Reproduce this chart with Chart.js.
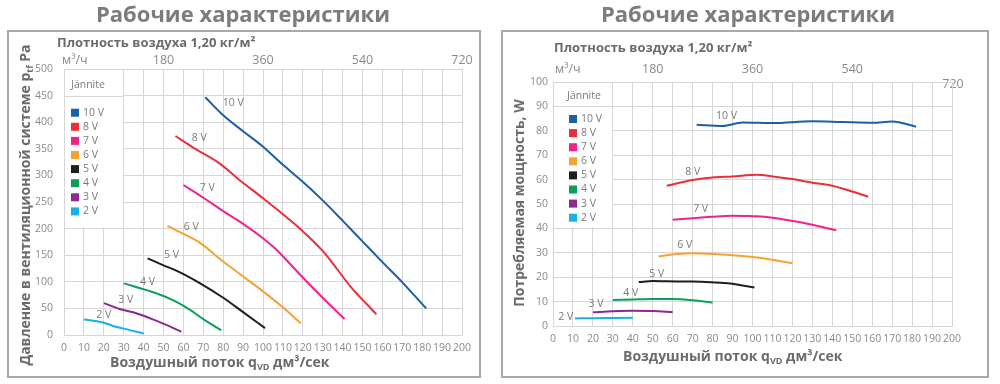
<!DOCTYPE html>
<html>
<head>
<meta charset="utf-8">
<script src="https://cdn.jsdelivr.net/npm/chart.js@4.4.1/dist/chart.umd.min.js"></script>
<style>
    html, body { margin: 0; padding: 0; background: #fff; }
    #wrap { position: relative; width: 1000px; height: 384px; }
    canvas { position: absolute; top: 0; }
    #left { left: 0; }
    #right { left: 500px; }
</style>
</head>
<body>
<div id="wrap">
    <canvas id="left" width="500" height="384"></canvas>
    <canvas id="right" width="500" height="384"></canvas>
</div>
<script>
// ---- data ----
const voltLabels = ["10 V", "8 V", "7 V", "6 V", "5 V", "4 V", "3 V", "2 V"];
const lineColors = ["#1b5fa6", "#ea2f3b", "#f0238a", "#f7a035", "#1e1e1e", "#0c9f5c", "#8c2a8f", "#17b1e6"];

// pressure chart (dm3/s -> Pa)
const pFlow10 = [71, 80, 90, 100, 110, 120, 130, 140, 150, 160, 170, 182];
const pPres10 = [447, 413, 383, 354, 320, 288, 253, 215, 176, 137, 99, 50];
const pFlow8 = [56, 66, 78, 88, 100, 110, 120, 130, 137, 144, 157];
const pPres8 = [374, 350, 323, 292, 257, 227, 195, 158, 125, 91, 39];
const pFlow7 = [60, 70, 80, 90, 100, 106, 110, 120, 130, 141];
const pPres7 = [282, 258, 233, 209, 182, 163, 148, 108, 70, 30];
const pFlow6 = [52, 60, 68, 80, 90, 100, 110, 119];
const pPres6 = [205, 190, 174, 138, 110, 82, 52, 22];
const pFlow5 = [42, 50, 57, 68, 80, 90, 101];
const pPres5 = [144, 131, 120, 98, 70, 43, 13];
const pFlow4 = [30, 46, 55, 63, 70, 79];
const pPres4 = [97, 79, 65, 48, 30, 9];
const pFlow3 = [20, 28, 37, 45, 52, 59];
const pPres3 = [60, 49, 40, 29, 18, 6];
const pFlow2 = [10, 19, 24, 30, 40];
const pPres2 = [29, 24, 18, 12, 3];

// power chart (dm3/s -> W)
const wFlow10 = [72, 85, 95, 110, 130, 145, 160, 170, 182];
const wPow10 = [82.5, 82, 83.4, 83.2, 83.9, 83.6, 83.3, 83.8, 81.7];
const wFlow8 = [57, 70, 80, 90, 102, 110, 120, 130, 140, 158];
const wPow8 = [57.5, 59.8, 60.9, 61.3, 62, 61.3, 60.2, 58.7, 57.5, 53];
const wFlow7 = [60, 70, 80, 90, 100, 106, 122, 142];
const wPow7 = [43.5, 44.2, 44.8, 45.2, 45, 44.8, 42.8, 39.3];
const wFlow6 = [53, 62, 70, 84, 90, 100, 109, 120];
const wPow6 = [28.5, 29.5, 29.8, 29.3, 29, 28.3, 27.3, 25.7];
const wFlow5 = [43, 50, 57, 70, 79, 89, 95, 101];
const wPow5 = [18, 18.4, 18.3, 18.2, 17.9, 17.4, 16.6, 15.8];
const wFlow4 = [30, 40, 50, 60, 70, 80];
const wPow4 = [10.7, 10.9, 11.1, 11.1, 10.6, 9.6];
const wFlow3 = [20, 30, 40, 50, 60];
const wPow3 = [5.6, 6, 6.2, 6.1, 5.7];
const wFlow2 = [11, 20, 30, 40];
const wPow2 = [3.1, 3.2, 3.3, 3.4];

// curve name tags, in data units
const pressTagPos = [[85, 436], [68, 370], [72, 276], [64, 203], [54, 150], [42, 100], [31, 66], [20, 38]];
const powerTagPos = [[87, 86], [70, 63], [74, 48], [66, 33], [52, 21.3], [39, 13.7], [21.6, 9], [6.4, 3.6]];

const topTicks = [180, 360, 540, 720];   // m3/h, top axis

const FONT = '"Open Sans", "DejaVu Sans", sans-serif';
const GRID = "#d6d6d6";
const TICK = "#8a8a8a";

const pressureSeries = [[pFlow10, pPres10], [pFlow8, pPres8], [pFlow7, pPres7], [pFlow6, pPres6],
    [pFlow5, pPres5], [pFlow4, pPres4], [pFlow3, pPres3], [pFlow2, pPres2]];
const powerSeries = [[wFlow10, wPow10], [wFlow8, wPow8], [wFlow7, wPow7], [wFlow6, wPow6],
    [wFlow5, wPow5], [wFlow4, wPow4], [wFlow3, wPow3], [wFlow2, wPow2]];

function richWidth(ctx, parts) {
    let w = 0;
    parts.forEach(p => { ctx.font = p.font; w += ctx.measureText(p.t).width; });
    return w;
}
function drawRich(ctx, parts, x, y) {
    parts.forEach(p => {
        ctx.font = p.font;
        ctx.fillText(p.t, x, y + (p.dy || 0));
        x += ctx.measureText(p.t).width;
    });
}

const B14 = "bold 14px " + FONT;
const B9 = "bold 9px " + FONT;
const xTitleParts = [{ t: "Воздушный поток q", font: B14 }, { t: "VD", font: B9, dy: 4 }, { t: " дм³/сек", font: B14 }];

const decorPlugin = {
    id: "decor",
    beforeDraw(chart, args, o) {
        const ctx = chart.ctx;
        ctx.save();
        ctx.strokeStyle = "#a8a8a8";
        ctx.lineWidth = 2;
        ctx.strokeRect(o.frame[0], o.frame[1], o.frame[2] - o.frame[0], o.frame[3] - o.frame[1]);

        ctx.textBaseline = "middle";
        ctx.fillStyle = "#7c7c7c";
        ctx.font = "bold 22px " + FONT;
        ctx.textAlign = "center";
        ctx.fillText("Рабочие характеристики", o.titleX, 16);

        ctx.textAlign = "left";
        ctx.fillStyle = "#6b6b6b";
        ctx.font = "bold 13px " + FONT;
        ctx.fillText("Плотность воздуха 1,20 кг/м²", o.densX, o.densY);

        ctx.fillStyle = TICK;
        ctx.font = "12.5px " + FONT;
        ctx.fillText("м³/ч", o.unitX, o.unitY);
        if (o.extra720) {
            ctx.textAlign = "center";
            ctx.fillText("720", chart.scales.x.getPixelForValue(200) + 1, chart.chartArea.top + 2);
        }

        // axis titles
        ctx.fillStyle = "#6b6b6b";
        ctx.textAlign = "left";
        drawRich(ctx, xTitleParts, o.xTitleX, o.xTitleY);
        ctx.translate(o.yTitleX, o.yTitleY);
        ctx.rotate(-Math.PI / 2);
        drawRich(ctx, o.yTitle, -richWidth(ctx, o.yTitle) / 2, 0);
        ctx.restore();
    },
    beforeDatasetsDraw(chart, args, o) {
        const ctx = chart.ctx, xs = chart.scales.x, ys = chart.scales.y;
        const l = xs.getPixelForValue(0), r = xs.getPixelForValue(30);
        const t = ys.getPixelForValue(o.legTop), b = ys.getPixelForValue(o.legBottom);
        const h = ys.getPixelForValue(o.legHead);
        ctx.save();
        ctx.fillStyle = "#fff";
        ctx.fillRect(l + 1, t + 1, r - l - 2, b - t - 2);
        ctx.strokeStyle = GRID;
        ctx.lineWidth = 1;
        ctx.beginPath();
        ctx.moveTo(l, Math.round(h) + 0.5);
        ctx.lineTo(r, Math.round(h) + 0.5);
        ctx.stroke();

        ctx.textBaseline = "middle";
        ctx.textAlign = "center";
        ctx.fillStyle = "#7a7a7a";
        ctx.font = "10.5px " + FONT;
        ctx.fillText("Jännite", o.jX, o.jY);
        ctx.textAlign = "left";
        voltLabels.forEach((lab, i) => {
            const y = o.rowY + i * 14.1;
            ctx.fillStyle = lineColors[i];
            ctx.fillRect(o.sqX, y - 4, 8, 8);
            ctx.fillStyle = "#7a7a7a";
            ctx.fillText(lab, o.sqX + 12, y);
        });
        ctx.restore();
    },
    afterDatasetsDraw(chart, args, o) {
        const ctx = chart.ctx, xs = chart.scales.x, ys = chart.scales.y;
        ctx.save();
        ctx.textBaseline = "middle";
        ctx.textAlign = "center";
        ctx.fillStyle = "#7a7a7a";
        ctx.font = "10.5px " + FONT;
        o.tags.forEach((p, i) => {
            ctx.fillText(voltLabels[i], xs.getPixelForValue(p[0]), ys.getPixelForValue(p[1]));
        });
        ctx.restore();
    }
};

function makeChart(id, series, cfg) {
    const datasets = series.map((s, i) => ({
        label: voltLabels[i],
        data: s[0].map((x, k) => ({ x: x, y: s[1][k] })),
        borderColor: lineColors[i],
        borderWidth: 2,
        pointRadius: 0,
        fill: false,
        cubicInterpolationMode: "monotone"
    }));
    return new Chart(document.getElementById(id).getContext("2d"), {
        type: "line",
        data: { datasets: datasets },
        options: {
            responsive: false,
            animation: false,
            layout: { padding: { left: 0, right: cfg.padRight, top: cfg.padTop, bottom: 0 } },
            plugins: { legend: { display: false }, tooltip: { enabled: false }, decor: cfg.decor },
            scales: {
                x: {
                    type: "linear", position: "bottom", min: 0, max: 200,
                    ticks: { stepSize: 10, autoSkip: false, maxRotation: 0, color: TICK, padding: cfg.xPad,
                        font: { family: FONT, size: 10.5 } },
                    grid: { color: GRID, drawTicks: false },
                    border: { color: GRID },
                    afterFit: s => { s.height = cfg.xH; }
                },
                x2: {
                    type: "linear", position: "top", min: 0, max: 720,
                    afterBuildTicks: s => { s.ticks = topTicks.map(v => ({ value: v })); },
                    ticks: { autoSkip: false, maxRotation: 0, color: TICK, padding: cfg.x2Pad,
                        font: { family: FONT, size: 12.5 },
                        callback: v => (cfg.decor.extra720 && v === 720) ? "" : String(v) },
                    grid: { display: false, drawTicks: false },
                    border: { display: false },
                    afterFit: s => { s.height = cfg.x2H; }
                },
                y: {
                    type: "linear", min: 0, max: cfg.yMax,
                    ticks: { stepSize: cfg.yStep, color: TICK, padding: cfg.yPad, font: { family: FONT, size: 10.5 } },
                    grid: { color: GRID, drawTicks: false },
                    border: { color: GRID },
                    afterFit: s => { s.width = cfg.yW; }
                }
            }
        },
        plugins: [decorPlugin]
    });
}

makeChart("left", pressureSeries, {
    padRight: 38, padTop: 50, x2H: 19, xH: 49, yW: 64, x2Pad: 1.5, xPad: 7, yPad: 11,
    yMax: 500, yStep: 50,
    decor: {
        frame: [8, 31, 480, 377], titleX: 243, densX: 57, densY: 43, unitX: 62, unitY: 60,
        xTitleX: 110, xTitleY: 363, yTitleX: 26, yTitleY: 205,
        yTitle: [{ t: "Давление в вентиляционной системе p", font: B14 }, { t: "tf", font: B9, dy: 4 }, { t: " Pa", font: B14 }],
        legTop: 500, legHead: 450, legBottom: 200, jX: 88, jY: 85, sqX: 71, rowY: 112.7,
        tags: pressTagPos, extra720: false
    }
});

makeChart("right", powerSeries, {
    padRight: 48, padTop: 60, x2H: 22, xH: 58, yW: 53, x2Pad: 5.5, xPad: 7, yPad: 5,
    yMax: 100, yStep: 10,
    decor: {
        frame: [2, 31, 488, 377], titleX: 248, densX: 54, densY: 48, unitX: 55, unitY: 69,
        xTitleX: 123, xTitleY: 357, yTitleX: 20, yTitleY: 203,
        yTitle: [{ t: "Потребляемая мощность, W", font: B14 }],
        legTop: 100, legHead: 90, legBottom: 40, jX: 84, jY: 96, sqX: 69, rowY: 119,
        tags: powerTagPos, extra720: true
    }
});
</script>
</body>
</html>
